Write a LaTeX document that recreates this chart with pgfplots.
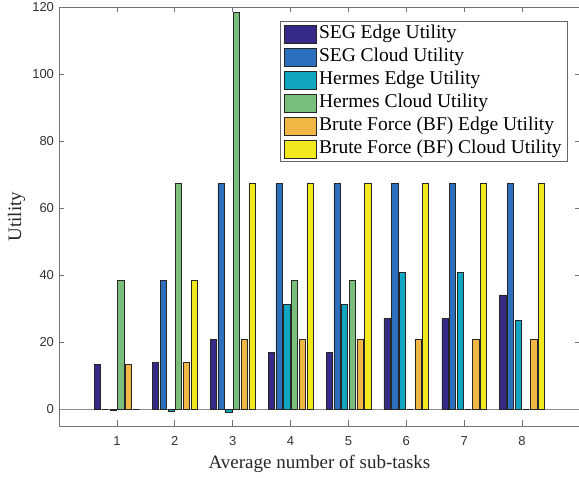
\documentclass[border=0pt]{standalone}
\usepackage{fontspec}
\setmainfont{Liberation Serif}
\newfontfamily\ticksans{Liberation Sans}
\usepackage{pgfplots}
\usepackage{pgfplotstable}
\pgfplotsset{compat=1.18}

\definecolor{c1}{HTML}{352A87}
\definecolor{c2}{HTML}{2B6FBD}
\definecolor{c3}{HTML}{10A6C1}
\definecolor{c4}{HTML}{79BF7B}
\definecolor{c5}{HTML}{F1B745}
\definecolor{c6}{HTML}{F2E81E}

\pgfplotstableread{
x segE segC hermE hermC bfE bfC
1 13.4 0 -0.4 38.5 13.4 0
2 14.0 38.5 -0.7 67.3 14.0 38.5
3 20.9 67.3 -1.0 118.5 20.9 67.3
4 16.9 67.3 31.3 38.5 20.9 67.3
5 16.9 67.3 31.3 38.5 20.9 67.3
6 27.1 67.3 40.8 0 20.9 67.3
7 27.1 67.3 40.8 0 20.9 67.3
8 34.1 67.3 26.5 0 20.9 67.3
}\datatable

\pgfplotsset{
  mybar/.style={ybar, bar width=0.107, draw=black!85, line width=0.5pt,
    legend image code/.code={\draw[##1] (0pt,-9pt) rectangle (32pt,9pt);}},
}

\begin{document}
\begin{tikzpicture}
\begin{axis}[
  scale only axis, width=521pt, height=419pt,
  xmin=0, xmax=9, ymin=-5, ymax=120,
  xtick={1,2,3,4,5,6,7,8}, ytick={0,20,40,60,80,100,120},
  axis line style={black!55, line width=0.6pt},
  every tick/.style={black!55, line width=0.6pt},
  major tick length=5.5pt,
  tick align=inside,
  /pgf/number format/assume math mode=true,
  tick label style={font=\fontsize{13}{13}\ticksans, text=black!80},
  xticklabel style={yshift=-6.7pt},
  yticklabel style={xshift=-1.5pt},
  extra y ticks={0}, extra y tick labels={},
  extra y tick style={grid=major, major grid style={black!45, line width=0.6pt}, major tick length=0pt},
  xlabel={Average number of sub-tasks},
  ylabel={Utility},
  label style={font=\fontsize{19}{19}\selectfont, text=black!85},
  xlabel style={at={(axis description cs:0.5,0)}, anchor=base, yshift=-43pt},
  ylabel style={at={(axis description cs:-0.0729,0.5)}, anchor=base},
  legend style={at={(1,1)}, anchor=north east, xshift=-12pt, yshift=-14pt,
    draw=black!60, line width=0.6pt, fill=white,
    inner xsep=3pt, inner ysep=1pt, row sep=0pt,
    font=\fontsize{19.5}{19.5}\selectfont,
    nodes={text height=14pt, text depth=5pt, inner ysep=2pt, inner xsep=3pt}},
  legend cell align=left,
]
\addplot[mybar, bar shift=-0.3333, fill=c1] table[x=x, y=segE] {\datatable};
\addplot[mybar, bar shift=-0.2, fill=c2] table[x=x, y=segC] {\datatable};
\addplot[mybar, bar shift=-0.0667, fill=c3] table[x=x, y=hermE] {\datatable};
\addplot[mybar, bar shift=0.0667, fill=c4] table[x=x, y=hermC] {\datatable};
\addplot[mybar, bar shift=0.2, fill=c5] table[x=x, y=bfE] {\datatable};
\addplot[mybar, bar shift=0.3333, fill=c6] table[x=x, y=bfC] {\datatable};
\legend{SEG Edge Utility, SEG Cloud Utility, Hermes Edge Utility, Hermes Cloud Utility, Brute Force (BF) Edge Utility, Brute Force (BF) Cloud Utility}
\end{axis}
\pgfresetboundingbox
\useasboundingbox (-59pt,-52pt) rectangle (520pt,426pt);
\end{tikzpicture}
\end{document}
